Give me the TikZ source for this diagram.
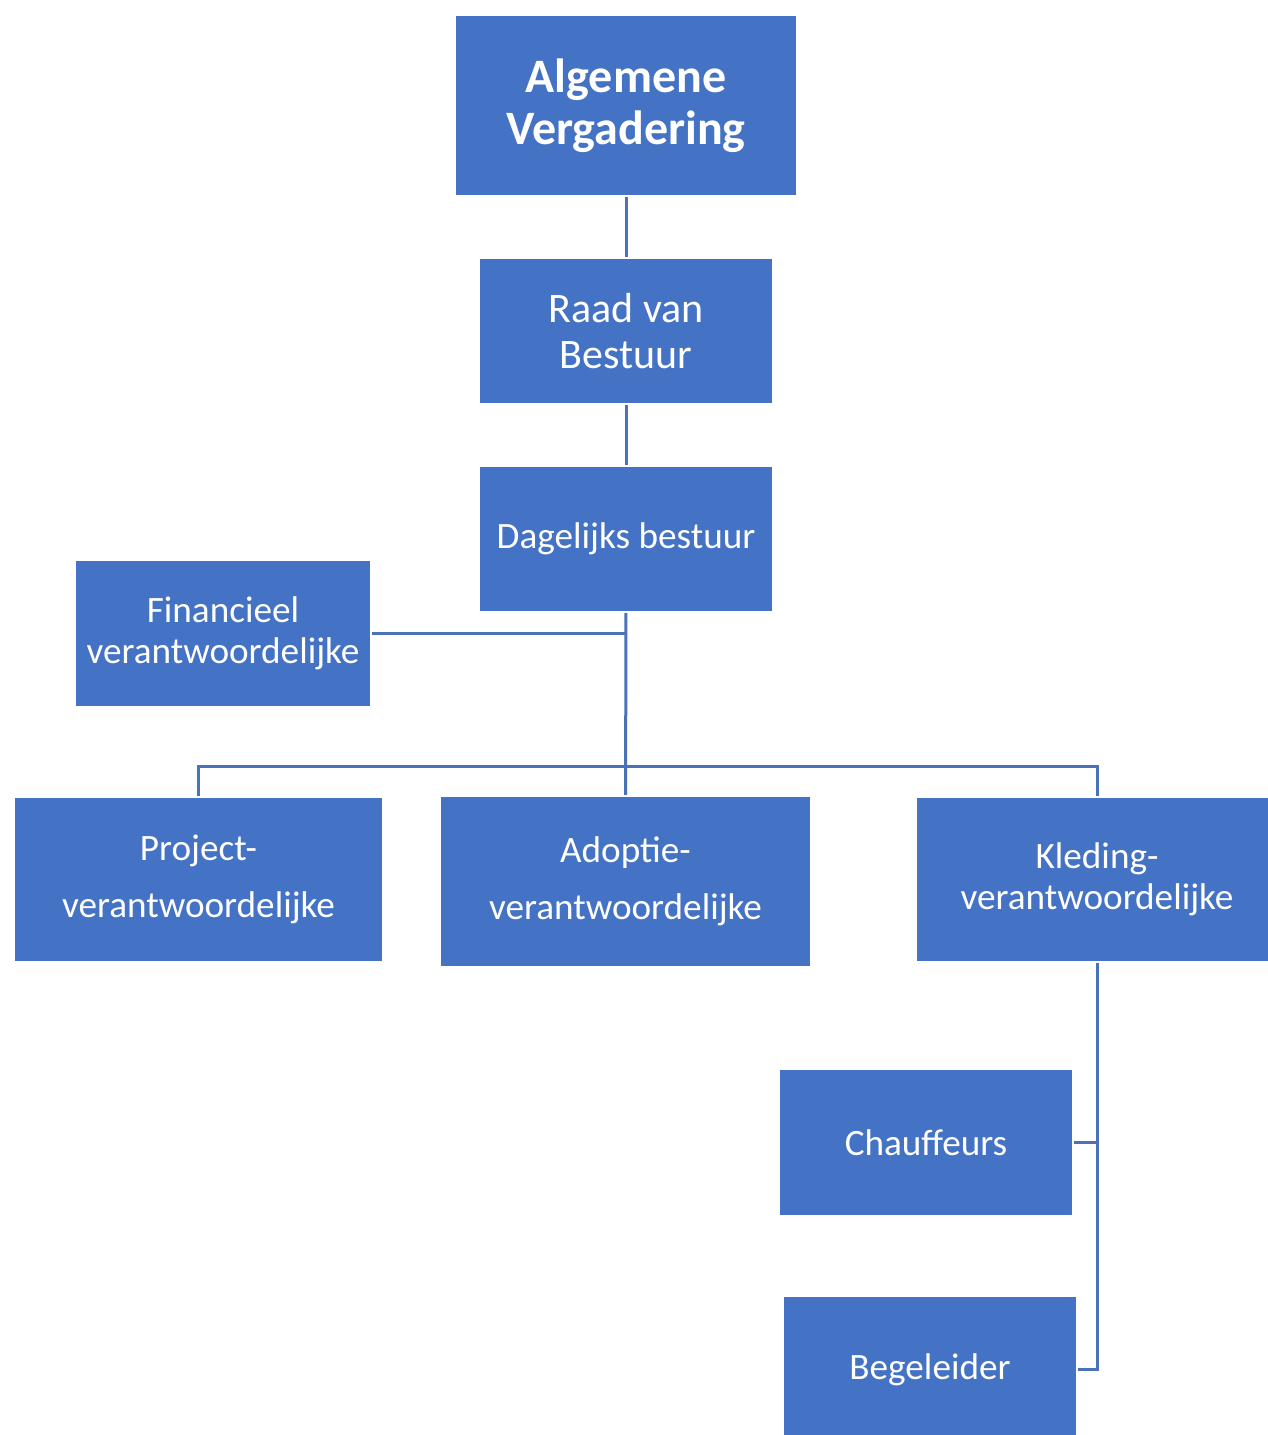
\documentclass[tikz,border=0pt]{standalone}
\usepackage{fontspec}
\setmainfont{Carlito}
\usepackage{tikz}
\definecolor{officeblue}{HTML}{4472C4}
\definecolor{linkblue}{HTML}{4A72B8}

\begin{document}
\begin{tikzpicture}[
    x=0.5pt, y=-0.5pt, % pixel grid of the chart
    box/.style={rectangle, draw=white, line width=1.2pt, fill=officeblue, text=white, align=center, inner sep=0pt},
    body/.style={font=\fontsize{18.6}{20.5}\selectfont},
    link/.style={draw=linkblue, line width=1.5pt}
    ]
    \useasboundingbox (0,0) rectangle (1268,1435);

    % Top of the chart
    \node [box, minimum width=171pt, minimum height=90.5pt, font=\bfseries\fontsize{24}{26}\selectfont] (algVerg) at (626,105.5) {Algemene\\Vergadering};
    \node [box, minimum width=147pt, minimum height=73pt, font=\fontsize{21}{23}\selectfont] (raadBest) at (626,331) {Raad van\\Bestuur};
    \node [box, body, minimum width=147pt, minimum height=73pt] (dagBest) at (626,539) {Dagelijks bestuur};
    \node [box, body, minimum width=148pt, minimum height=73.5pt] (finVer) at (223,633.5) {Financieel\\verantwoordelijke};

    % Middle row
    \node [box, minimum width=184.5pt, minimum height=82.5pt, font=\fontsize{18.6}{28.5}\selectfont] (projVer) at (198.5,879.5) {Project-\\verantwoordelijke};
    \node [box, minimum width=185.5pt, minimum height=85.5pt, font=\fontsize{18.6}{28.5}\selectfont] (adopVer) at (625.5,881.5) {Adoptie-\\verantwoordelijke};
    \node [box, body, minimum width=181pt, minimum height=82.5pt] (kledVer) at (1097,879.5) {Kleding-\\verantwoordelijke};

    % Under Kleding
    \node [box, body, minimum width=147pt, minimum height=73.5pt] (chauf) at (926,1142.5) {Chauffeurs};
    \node [box, body, minimum width=147pt, minimum height=73.5pt] (begel) at (930,1369.5) {Begeleider};

    \coordinate (bus) at (626,766);

    % Draw edges
    \path [link] (algVerg) -- (raadBest);
    \path [link] (raadBest) -- (dagBest);
    \path [link] (dagBest) -- (adopVer);
    \path [link] (finVer.east) -- (finVer.east -| dagBest.south);
    \path [link] (projVer.north) |- (bus) -| (kledVer.north);
    \path [link] (kledVer.south) |- (begel.east);
    \path [link] (chauf.east) -- (chauf.east -| kledVer.south);

\end{tikzpicture}
\end{document}
